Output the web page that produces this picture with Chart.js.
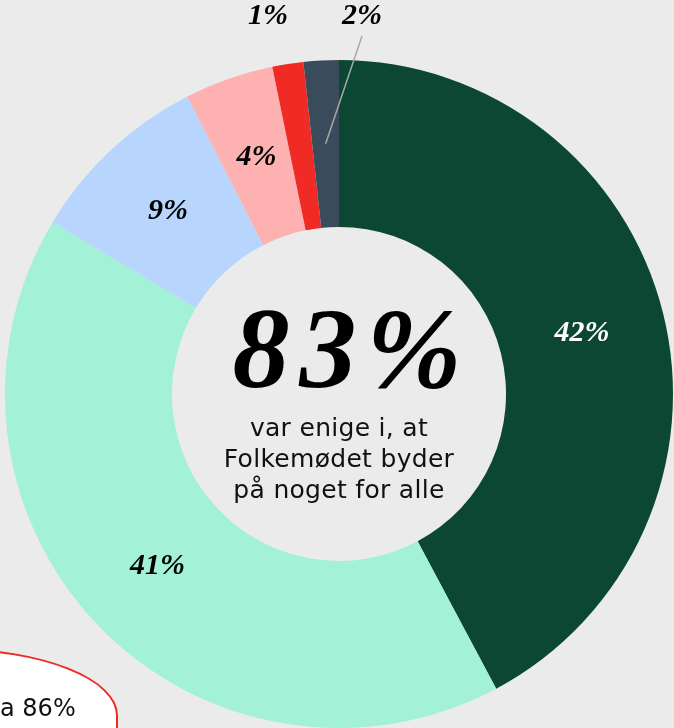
<!DOCTYPE html>
<html lang="da">
<head>
    <meta charset="UTF-8">
    <title>Folkemødet - enighed</title>
    <style>
        * {
            margin: 0;
            padding: 0;
            box-sizing: border-box;
        }

        body {
            width: 674px;
            height: 728px;
            overflow: hidden;
            background-color: #ebebeb;
            position: relative;
        }

        #chartBox {
            position: absolute;
            left: 0;
            top: 0;
            width: 674px;
            height: 728px;
        }

        /* Big number in the hole */
        .center {
            position: absolute;
            left: 139px;
            width: 400px;
            top: 292px;
            text-align: center;
            pointer-events: none;
        }

        .center .big {
            font-family: 'Liberation Serif', serif;
            font-style: italic;
            font-weight: bold;
            font-size: 114px;
            line-height: 114px;
            letter-spacing: 10px;
            color: #000;
            padding-left: 26px;
        }

        .center .sub {
            font-family: 'DejaVu Sans', sans-serif;
            font-size: 25px;
            line-height: 31px;
            letter-spacing: 0.3px;
            color: #111;
            margin-top: 6px;
        }

        /* Callout bubble, bottom left (cut off) */
        .callout {
            position: absolute;
            left: -220px;
            top: 648px;
            width: 338px;
            height: 150px;
            background: #fff;
            border: 2.5px solid #ee2a24;
            border-radius: 50% / 45%;
            font-family: 'DejaVu Sans', sans-serif;
            font-size: 24px;
            color: #111;
        }

        .callout span {
            position: absolute;
            left: 218px;
            top: 44px;
            white-space: nowrap;
        }
    </style>
</head>
<body>

<div id="chartBox"><canvas id="agreeChart"></canvas></div>

<div class="center">
    <div class="big">83%</div>
    <div class="sub">var enige i, at<br>Folkemødet byder<br>på noget for alle</div>
</div>

<div class="callout"><span>a 86%</span></div>

<script src="https://cdn.jsdelivr.net/npm/chart.js"></script>
<script>
    // Data
    const categories = ['Helt enig', 'Delvist enig', 'Hverken enig eller uenig', 'Delvist uenig', 'Helt uenig', 'Ved ikke'];
    const shares = [42.2, 41.4, 8.9, 4.3, 1.5, 1.7];
    const shareLabels = ['42%', '41%', '9%', '4%', '1%', '2%'];
    const sliceColors = ['#0b4733', '#a3f1d7', '#b8d5fd', '#fdb1b0', '#f02a25', '#3a4c5c'];

    // Draws the % labels; the two smallest slices get theirs above the ring
    const sliceLabels = {
        id: 'sliceLabels',
        afterDatasetsDraw(chart) {
            const ctx = chart.ctx;
            const arcs = chart.getDatasetMeta(0).data;
            ctx.save();
            ctx.font = 'italic bold 30px "Liberation Serif", serif';
            ctx.textAlign = 'center';
            ctx.textBaseline = 'middle';
            arcs.forEach((arc, i) => {
                const p = arc.tooltipPosition();
                if (i === 4) {
                    ctx.fillStyle = '#000';
                    ctx.fillText(shareLabels[i], 268, 16);
                } else if (i === 5) {
                    ctx.strokeStyle = '#a8a8a8';
                    ctx.lineWidth = 1.5;
                    ctx.beginPath();
                    ctx.moveTo(362, 36);
                    ctx.lineTo(p.x, p.y);
                    ctx.stroke();
                    ctx.fillStyle = '#000';
                    ctx.fillText(shareLabels[i], 362, 16);
                } else {
                    ctx.fillStyle = i === 0 ? '#fff' : '#000';
                    ctx.fillText(shareLabels[i], p.x, p.y);
                }
            });
            ctx.restore();
        }
    };

    const agreeCtx = document.getElementById('agreeChart').getContext('2d');
    const agreeChart = new Chart(agreeCtx, {
        type: 'doughnut',
        data: {
            labels: categories,
            datasets: [{
                data: shares,
                backgroundColor: sliceColors,
                borderWidth: 0
            }]
        },
        options: {
            responsive: true,
            maintainAspectRatio: false,
            animation: false,
            cutout: '50%',
            layout: {
                padding: { left: 5, right: 1, top: 60, bottom: 0 }
            },
            plugins: {
                legend: { display: false },
                tooltip: { enabled: false }
            }
        },
        plugins: [sliceLabels]
    });
</script>

</body>
</html>
